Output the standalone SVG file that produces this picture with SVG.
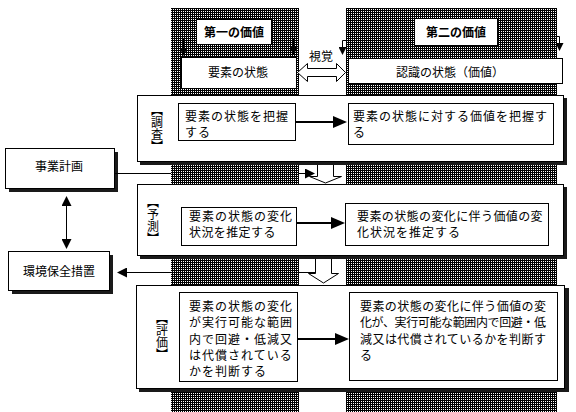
<svg xmlns="http://www.w3.org/2000/svg" width="576" height="412" viewBox="0 0 576 412">
<defs>
<pattern id="dots" width="2" height="2" patternUnits="userSpaceOnUse">
<rect width="2" height="2" fill="#000"/>
<rect x="1" y="1" width="1" height="1" fill="#fff"/>
</pattern>
<marker id="big" markerUnits="userSpaceOnUse" markerWidth="14" markerHeight="12" refX="9" refY="6" orient="auto"><path d="M0,0 L14,6 L0,12 Z" fill="#000"/></marker>
<marker id="sm" markerUnits="userSpaceOnUse" markerWidth="10" markerHeight="10" refX="6" refY="5" orient="auto-start-reverse"><path d="M0,0 L10,5 L0,10 Z" fill="#000"/></marker>
<marker id="tiny" markerUnits="userSpaceOnUse" markerWidth="8" markerHeight="8" refX="5" refY="4" orient="auto"><path d="M0,0 L8,4 L0,8 Z" fill="#000"/></marker>
</defs>
<style>
text{font-family:"Noto Sans CJK JP","Noto Sans CJK SC",sans-serif;font-size:12px;fill:#000}
.box{fill:#fff;stroke:#000;stroke-width:1}
.sh{fill:#1a1a1a}
.ln{fill:none;stroke:#000;stroke-width:1}
.thick{fill:none;stroke:#000;stroke-width:2}
.blk{fill:#fff;stroke:#000;stroke-width:1}
.lab{writing-mode:vertical-rl;text-anchor:middle}
.hd{font-weight:bold}
.c{text-anchor:middle}
.s1{letter-spacing:1px}
.s0{letter-spacing:0.4px}
</style>

<g id="columns">
<rect x="171" y="8" width="128" height="404" fill="url(#dots)"/>
<rect x="346" y="8" width="211" height="404" fill="url(#dots)"/>
</g>

<g id="header1">
<rect class="box" x="196.5" y="19.5" width="75" height="25"/>
<text x="234" y="37" class="c hd">第一の価値</text>
</g>
<g id="header2">
<rect class="box" x="414.5" y="18.5" width="83" height="27"/>
<text x="456" y="37" class="c hd">第二の価値</text>
</g>
<g id="state1">
<rect class="box" x="181.5" y="57.5" width="115" height="31"/>
<text x="238" y="77" class="c">要素の状態</text>
</g>
<g id="state2">
<rect class="box" x="348.5" y="58.5" width="214" height="25"/>
<text x="450" y="77" class="c">認識の状態（価値）</text>
</g>

<g id="chousa">
<rect class="sh" x="140" y="98" width="427" height="67"/>
<rect class="box" x="137.5" y="95.5" width="426" height="66"/>
<text x="157" y="128" class="lab">【調査】</text>
</g>
<g id="chousa1">
<rect class="box" x="178.5" y="103.5" width="117" height="37"/>
<text x="185" y="121" class="s1">要素の状態を把握</text>
<text x="185" y="137" class="s1">する</text>
</g>
<g id="chousa2">
<rect class="box" x="348.5" y="103.5" width="205" height="41"/>
<text x="353" y="121" class="s1">要素の状態に対する価値を把握す</text>
<text x="353" y="137" class="s1">る</text>
</g>

<g id="yosoku">
<rect class="sh" x="140" y="187" width="427" height="72"/>
<rect class="box" x="137.5" y="184.5" width="426" height="71"/>
<text x="153" y="220" class="lab">【予測】</text>
</g>
<g id="yosoku1">
<rect class="box" x="181.5" y="207.5" width="115" height="38"/>
<text x="189" y="221" class="s1">要素の状態の変化</text>
<text x="189" y="237" class="s0">状況を推定する</text>
</g>
<g id="yosoku2">
<rect class="box" x="345.5" y="203.5" width="203" height="42"/>
<text x="357" y="221" class="s0">要素の状態の変化に伴う価値の変</text>
<text x="357" y="237" class="s1">化状況を推定する</text>
</g>

<g id="hyoka">
<rect class="sh" x="139" y="288" width="430" height="104"/>
<rect class="box" x="136.5" y="285.5" width="428" height="103"/>
<text x="162" y="336" class="lab">【評価】</text>
</g>
<g id="hyoka1">
<rect class="box" x="179.5" y="292.5" width="118" height="89"/>
<text x="189" y="311" class="s1">要素の状態の変化</text>
<text x="189" y="327.3" class="s1">が実行可能な範囲</text>
<text x="189" y="343.5" class="s1">内で回避・低減又</text>
<text x="189" y="359.8" class="s1">は代償されている</text>
<text x="189" y="376" class="s1">かを判断する</text>
</g>
<g id="hyoka2">
<rect class="box" x="349.5" y="292.5" width="208" height="88"/>
<text x="360" y="311" textLength="186" lengthAdjust="spacing">要素の状態の変化に伴う価値の変</text>
<text x="360" y="327.3" textLength="186" lengthAdjust="spacing">化が、実行可能な範囲内で回避・低</text>
<text x="360" y="343.5" textLength="186" lengthAdjust="spacing">減又は代償されているかを判断す</text>
<text x="360" y="359.8">る</text>
</g>

<g id="jigyou">
<rect class="sh" x="9" y="152" width="109" height="40"/>
<rect class="box" x="5.5" y="148.5" width="109" height="40"/>
<text x="59" y="171" class="c">事業計画</text>
</g>
<g id="kankyou">
<rect class="sh" x="12" y="255" width="101" height="39"/>
<rect class="box" x="8.5" y="251.5" width="101" height="39"/>
<text x="59" y="276" class="c">環境保全措置</text>
</g>

<g id="connectors">
<path class="ln" d="M183.5 38 V53" marker-end="url(#tiny)"/>
<path class="ln" d="M293.5 38 V52" marker-end="url(#tiny)"/>
<path class="ln" d="M346 40.5 H342.5 V52" marker-end="url(#tiny)"/>
<path class="ln" d="M556 36.5 H559.5 V48" marker-end="url(#tiny)"/>
<polygon class="blk" points="297.5,72.5 307.5,63.5 307.5,68.5 336.5,68.5 336.5,63.5 345.5,72.5 336.5,81.5 336.5,76.5 307.5,76.5 307.5,81.5"/>
<text x="321" y="61" class="c">視覚</text>
<path class="thick" d="M295 122 H342" marker-end="url(#big)"/>
<path class="thick" d="M296 223 H340" marker-end="url(#big)"/>
<path class="thick" d="M297 339 H344" marker-end="url(#big)"/>
<path class="blk" d="M317.5 165 V176.5 H309.5 L325.5 183 L341.5 176.5 H333.5 V165"/>
<path class="blk" d="M315.5 259 V273.5 H308.5 L323.5 283 L338.5 273.5 H331.5 V259"/>
<path class="ln" d="M114 173.5 H171 M299 173.5 H311" marker-end="url(#sm)"/>
<path class="ln" d="M315 272.5 H299 M171 272.5 H121" marker-end="url(#sm)"/>
<path class="ln" d="M66.5 200 V245" marker-start="url(#sm)" marker-end="url(#sm)"/>
</g>
</svg>
